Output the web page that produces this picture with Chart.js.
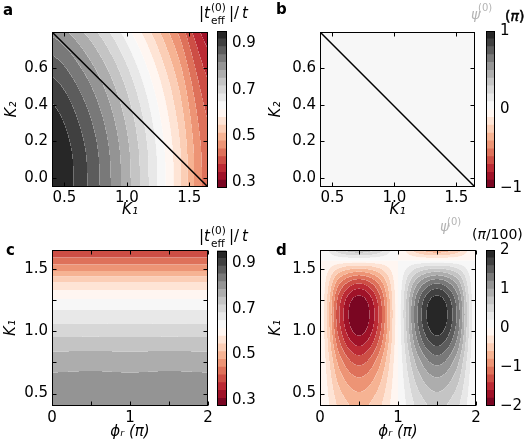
<!DOCTYPE html>
<html>
<head>
<meta charset="utf-8">
<script src="https://cdn.jsdelivr.net/npm/chart.js@4.4.1/dist/chart.umd.min.js"></script>
<style>
  body { margin: 0; background: #fff; }
  #fig { position: relative; width: 526px; height: 447px; overflow: hidden; font-family: "DejaVu Sans"; }
  #fig canvas { position: absolute; }
  .t { position: absolute; white-space: nowrap; line-height: 1; color: #000; font-family: "DejaVu Sans"; }
  .heavy { -webkit-text-stroke: 0.5px #000; }
</style>
</head>
<body>
<div id="fig">
  <canvas id="pa" width="263" height="223" style="left:0;top:0"></canvas>
  <canvas id="pb" width="263" height="223" style="left:263px;top:0"></canvas>
  <canvas id="pc" width="263" height="224" style="left:0;top:223px"></canvas>
  <canvas id="pd" width="263" height="224" style="left:263px;top:223px"></canvas>
  <canvas id="ca" width="51" height="223" style="left:212px;top:0"></canvas>
  <canvas id="cb" width="46" height="223" style="left:480px;top:0"></canvas>
  <canvas id="cc" width="51" height="224" style="left:212px;top:223px"></canvas>
  <canvas id="cd" width="46" height="224" style="left:480px;top:223px"></canvas>
</div>
<script>
// ================================
// Data
// ================================

// panel a : |t_eff^(0)|/t over (K1, K2), rows follow aK2
const aK1 = [0.4, 0.65, 0.9, 1.15, 1.4, 1.65];
const aK2 = [-0.05, 0.15, 0.35, 0.55, 0.75, 0.95];
const aT = [
  [0.960, 0.897, 0.807, 0.695, 0.566, 0.426],
  [0.955, 0.892, 0.802, 0.691, 0.563, 0.423],
  [0.931, 0.868, 0.780, 0.670, 0.543, 0.406],
  [0.888, 0.827, 0.741, 0.633, 0.510, 0.375],
  [0.827, 0.769, 0.685, 0.581, 0.462, 0.333],
  [0.752, 0.695, 0.616, 0.516, 0.403, 0.280]
];

// panel b : psi^(0) (pi) over (K1, K2) -- flat zero
const bK1 = [0.4, 1.65];
const bK2 = [-0.05, 0.95];
const bPsi = [
  [0, 0],
  [0, 0]
];

// the straight line drawn in a and b
const lineK1 = [0.4, 1.65];
const lineK2 = [0.8, -0.05];

// panel c : |t_eff^(0)|/t over (phi_r, K1), rows follow cK1
const cPhi = [0, 0.5, 1, 1.5, 2];
const cK1 = [0.4, 0.525, 0.65, 0.775, 0.9, 1.025, 1.15, 1.275, 1.4, 1.525, 1.65];
const cT = [
  [0.810, 0.812, 0.810, 0.812, 0.810],
  [0.800, 0.802, 0.800, 0.802, 0.800],
  [0.787, 0.789, 0.787, 0.789, 0.787],
  [0.765, 0.766, 0.765, 0.766, 0.765],
  [0.733, 0.734, 0.733, 0.734, 0.733],
  [0.692, 0.693, 0.692, 0.693, 0.692],
  [0.655, 0.655, 0.655, 0.655, 0.655],
  [0.607, 0.607, 0.607, 0.607, 0.607],
  [0.540, 0.540, 0.540, 0.540, 0.540],
  [0.450, 0.450, 0.450, 0.450, 0.450],
  [0.385, 0.385, 0.385, 0.385, 0.385]
];

// panel d : psi^(0) (pi/100) over (phi_r, K1), rows follow dK1
const dPhi = [0, 0.25, 0.5, 0.75, 1, 1.25, 1.5, 1.75, 2];
const dK1 = [0.4, 0.525, 0.65, 0.775, 0.9, 1.025, 1.15, 1.275, 1.4, 1.525, 1.65];
const dPsi = [
  [0, -0.46, -0.65, -0.46, 0, 0.46, 0.65, 0.46, 0],
  [0, -0.58, -0.82, -0.58, 0, 0.58, 0.82, 0.58, 0],
  [0, -0.74, -1.04, -0.74, 0, 0.74, 1.04, 0.74, 0],
  [0, -0.93, -1.32, -0.93, 0, 0.93, 1.32, 0.93, 0],
  [0, -1.17, -1.65, -1.17, 0, 1.17, 1.65, 1.17, 0],
  [0, -1.35, -1.91, -1.35, 0, 1.35, 1.91, 1.35, 0],
  [0, -1.41, -1.99, -1.41, 0, 1.41, 1.99, 1.41, 0],
  [0, -1.29, -1.83, -1.29, 0, 1.29, 1.83, 1.29, 0],
  [0, -0.92, -1.30, -0.92, 0, 0.92, 1.30, 0.92, 0],
  [0, -0.30, -0.42, -0.30, 0, 0.30, 0.42, 0.30, 0],
  [0, 0.53, 0.75, 0.53, 0, -0.53, -0.75, -0.53, 0]
];

// colour ranges (20 filled levels each)
const tRange = [0.275, 0.954];
const psiBRange = [-1, 1];
const psiDRange = [-2, 2];
const nLevels = 20;

// ticks
const k1Ticks = [0.5, 1.0, 1.5];
const k2Ticks = [0.0, 0.2, 0.4, 0.6];
const phiTicks = [0, 1, 2];
const phiMarks = [0, 0.5, 1, 1.5, 2];
const k1Marks = [0.5, 0.75, 1.0, 1.25, 1.5];
const tBarTicks = [0.3, 0.5, 0.7, 0.9];
const psiBTicks = [-1, 0, 1];
const psiDTicks = [-2, -1, 0, 1, 2];

// ================================
// Colour map (RdGy)
// ================================
const RDGY = [[103,0,31],[178,24,43],[214,96,77],[244,165,130],[253,219,199],
  [255,255,255],[224,224,224],[186,186,186],[135,135,135],[77,77,77],[26,26,26]];

function cmap(p) {
  const s = Math.max(0, Math.min(1, p)) * 10;
  const i = Math.min(9, Math.floor(s));
  const t = s - i;
  const a = RDGY[i], b = RDGY[i + 1];
  return [0, 1, 2].map(c => Math.round(a[c] + (b[c] - a[c]) * t));
}

const FONT = "DejaVu Sans";
const FS = 15;
const minus = v => (v < 0 ? "\u2212" : "") + Math.abs(v);

// ================================
// Smooth lookup in a value grid
// ================================
function cr(p0, p1, p2, p3, t) {
  return p1 + 0.5 * t * (p2 - p0 + t * (2 * p0 - 5 * p1 + 4 * p2 - p3 + t * (3 * (p1 - p2) + p3 - p0)));
}
function gridPos(arr, v) {
  const n = arr.length;
  const step = (arr[n - 1] - arr[0]) / (n - 1);
  const u = (v - arr[0]) / step;
  const i = Math.max(0, Math.min(n - 2, Math.floor(u)));
  return [i, u - i];
}
function lookup(f, xv, yv) {
  const [i, tx] = gridPos(f.xs, xv);
  const [j, ty] = gridPos(f.ys, yv);
  const nr = f.z.length, nc = f.z[0].length;
  const at = (r, c) => f.z[Math.max(0, Math.min(nr - 1, r))][Math.max(0, Math.min(nc - 1, c))];
  const rows = [-1, 0, 1, 2].map(d => cr(at(j + d, i - 1), at(j + d, i), at(j + d, i + 1), at(j + d, i + 2), tx));
  return cr(rows[0], rows[1], rows[2], rows[3], ty);
}

// ================================
// Plugins: filled levels + frame
// ================================
function fieldPlugin(f) {
  const colors = [];
  for (let k = 0; k < f.n; k++) colors.push(cmap((k + 0.5) / f.n));
  const band = v => {
    const k = Math.floor((v - f.range[0]) / (f.range[1] - f.range[0]) * f.n);
    return Math.max(0, Math.min(f.n - 1, k));
  };
  return {
    id: "field",
    beforeDatasetsDraw(chart) {
      const { ctx, chartArea: ca, scales: { x, y } } = chart;
      const w = Math.round(ca.right - ca.left), h = Math.round(ca.bottom - ca.top);
      const off = document.createElement("canvas");
      off.width = w; off.height = h;
      const octx = off.getContext("2d");
      const img = octx.createImageData(w, h);
      const sub = [0.25, 0.75];
      for (let j = 0; j < h; j++) {
        for (let i = 0; i < w; i++) {
          let r = 0, g = 0, b = 0, k0 = -1, mixed = false;
          for (const sy of sub) for (const sx of sub) {
            const xv = x.getValueForPixel(ca.left + i + sx);
            const yv = y.getValueForPixel(ca.top + j + sy);
            const k = band(lookup(f, xv, yv));
            if (k0 < 0) k0 = k; else if (k !== k0) mixed = true;
            const c = colors[k];
            r += c[0]; g += c[1]; b += c[2];
          }
          r /= 4; g /= 4; b /= 4;
          if (mixed) { r += (255 - r) * 0.3; g += (255 - g) * 0.3; b += (255 - b) * 0.3; }
          const o = (j * w + i) * 4;
          img.data[o] = r; img.data[o + 1] = g; img.data[o + 2] = b; img.data[o + 3] = 255;
        }
      }
      octx.putImageData(img, 0, 0);
      ctx.drawImage(off, ca.left, ca.top);
    }
  };
}

function framePlugin(xMarks, yMarks) {
  return {
    id: "frame",
    afterDraw(chart) {
      const { ctx, chartArea: ca, scales } = chart;
      const L = Math.round(ca.left) + 0.5, R = Math.round(ca.right) - 0.5;
      const T = Math.round(ca.top) + 0.5, B = Math.round(ca.bottom) - 0.5;
      ctx.save();
      ctx.strokeStyle = "#000";
      ctx.lineWidth = 1;
      ctx.beginPath();
      (xMarks || []).forEach(v => {
        const px = Math.round(scales.x.getPixelForValue(v)) + 0.5;
        ctx.moveTo(px, B); ctx.lineTo(px, B - 4);
        ctx.moveTo(px, T); ctx.lineTo(px, T + 4);
      });
      (yMarks || []).forEach(v => {
        const py = Math.round(scales.y.getPixelForValue(v)) + 0.5;
        ctx.moveTo(L, py); ctx.lineTo(L + 4, py);
        ctx.moveTo(R, py); ctx.lineTo(R - 4, py);
      });
      ctx.stroke();
      ctx.strokeRect(L, T, R - L, B - T);
      ctx.restore();
    }
  };
}

// ================================
// Builders
// ================================
function axis(a, horizontal) {
  return {
    type: "linear", min: a.min, max: a.max,
    afterBuildTicks: s => { s.ticks = a.ticks.map(v => ({ value: v })); },
    afterFit: s => { if (horizontal) s.height = a.size; else s.width = a.size; },
    grid: { display: false, drawTicks: false },
    border: { display: false },
    ticks: { padding: a.pad, color: "#000", font: { family: FONT, size: FS }, maxRotation: 0, autoSkip: false, callback: v => a.fmt(v) },
    title: { display: true, text: a.title, color: "#000", font: { family: FONT, size: FS, style: "italic" }, padding: 0 }
  };
}

function makePanel(id, o) {
  new Chart(document.getElementById(id), {
    type: "scatter",
    data: { datasets: o.datasets || [] },
    options: {
      responsive: false, animation: false, devicePixelRatio: 1, events: [],
      layout: { padding: o.pad },
      plugins: { legend: { display: false }, tooltip: { enabled: false } },
      scales: { x: axis(o.x, true), y: axis(o.y, false) }
    },
    plugins: [fieldPlugin(o.field), framePlugin(o.xMarks, o.yMarks)]
  });
}

function makeColorbar(id, o) {
  const step = (o.range[1] - o.range[0]) / nLevels;
  const datasets = [];
  for (let k = 0; k < nLevels; k++) {
    const c = cmap((k + 0.5) / nLevels);
    datasets.push({
      data: [[o.range[0] + k * step, o.range[0] + (k + 1) * step]],
      backgroundColor: `rgb(${c[0]},${c[1]},${c[2]})`,
      borderWidth: 0, barPercentage: 1, categoryPercentage: 1, grouped: false
    });
  }
  new Chart(document.getElementById(id), {
    type: "bar",
    data: { labels: [""], datasets },
    options: {
      responsive: false, animation: false, devicePixelRatio: 1, events: [],
      layout: { padding: o.pad },
      plugins: { legend: { display: false }, tooltip: { enabled: false } },
      scales: {
        x: { display: false },
        y: {
          position: "right", min: o.range[0], max: o.range[1],
          afterBuildTicks: s => { s.ticks = o.ticks.map(v => ({ value: v })); },
          afterFit: s => { s.width = o.width; },
          grid: { display: false, drawTicks: false },
          border: { display: false },
          ticks: { padding: 5.5, color: "#000", font: { family: FONT, size: FS }, callback: v => o.fmt(v) }
        }
      }
    },
    plugins: [framePlugin([], [])]
  });
}

const lineData = lineK1.map((x, i) => ({ x, y: lineK2[i] }));
const lineSet = { data: lineData, showLine: true, borderColor: "#000", borderWidth: 1.5, pointRadius: 0, fill: false };
const f1 = v => v.toFixed(1);

// ================================
// Panels
// ================================
makePanel("pa", {
  pad: { left: 3, top: 32, right: 55, bottom: 4 },
  x: { min: 0.4, max: 1.65, ticks: k1Ticks, size: 32, pad: 2, fmt: f1, title: "K\u2081" },
  y: { min: -0.05, max: 0.8, ticks: k2Ticks, size: 49, pad: 4, fmt: f1, title: "K\u2082" },
  field: { xs: aK1, ys: aK2, z: aT, range: tRange, n: nLevels },
  xMarks: k1Ticks, yMarks: k2Ticks,
  datasets: [lineSet]
});

makePanel("pb", {
  pad: { left: 4.5, top: 32, right: 51, bottom: 4 },
  x: { min: 0.4, max: 1.65, ticks: k1Ticks, size: 32, pad: 2, fmt: f1, title: "K\u2081" },
  y: { min: -0.05, max: 0.8, ticks: k2Ticks, size: 52.5, pad: 4, fmt: f1, title: "K\u2082" },
  field: { xs: bK1, ys: bK2, z: bPsi, range: psiBRange, n: nLevels },
  xMarks: k1Ticks, yMarks: k2Ticks,
  datasets: [Object.assign({}, lineSet)]
});

makePanel("pc", {
  pad: { left: 2.5, top: 27, right: 55, bottom: 6 },
  x: { min: 0, max: 2, ticks: phiTicks, size: 35, pad: 3, fmt: v => String(v), title: "\u03d5\u1d63 (\u03c0)" },
  y: { min: 0.4, max: 1.65, ticks: k1Ticks, size: 49.5, pad: 4, fmt: f1, title: "K\u2081" },
  field: { xs: cPhi, ys: cK1, z: cT, range: tRange, n: nLevels },
  xMarks: phiMarks, yMarks: k1Marks
});

makePanel("pd", {
  pad: { left: 4.5, top: 27, right: 50, bottom: 6 },
  x: { min: 0, max: 2, ticks: phiTicks, size: 35, pad: 3, fmt: v => String(v), title: "\u03d5\u1d63 (\u03c0)" },
  y: { min: 0.4, max: 1.65, ticks: k1Ticks, size: 52.5, pad: 4, fmt: f1, title: "K\u2081" },
  field: { xs: dPhi, ys: dK1, z: dPsi, range: psiDRange, n: nLevels },
  xMarks: phiMarks, yMarks: k1Marks
});

makeColorbar("ca", { pad: { left: 5, top: 31, right: 0, bottom: 35 }, width: 36.5, range: tRange, ticks: tBarTicks, fmt: f1 });
makeColorbar("cb", { pad: { left: 6, top: 31, right: 0, bottom: 35 }, width: 31.5, range: psiBRange, ticks: psiBTicks, fmt: minus });
makeColorbar("cc", { pad: { left: 5, top: 27.5, right: 0, bottom: 41 }, width: 36.5, range: tRange, ticks: tBarTicks, fmt: f1 });
makeColorbar("cd", { pad: { left: 6, top: 27, right: 0, bottom: 41 }, width: 31.5, range: psiDRange, ticks: psiDTicks, fmt: minus });

// ================================
// Panel letters and colour-bar titles
// ================================
const fig = document.getElementById("fig");
function label(html, x, base, size, style, cls) {
  const d = document.createElement("div");
  d.className = "t" + (cls ? " " + cls : "");
  d.innerHTML = html;
  d.style.left = x + "px";
  d.style.top = (base - 0.846 * size) + "px";
  d.style.fontSize = size + "px";
  if (style) Object.assign(d.style, style);
  fig.appendChild(d);
}

label("<b>a</b>", 3, 16, 15);
label("<b>b</b>", 276, 15, 15);
label("<b>c</b>", 6, 256, 15);
label("<b>d</b>", 276, 256, 15);

[0, 223].forEach(dy => {
  label("|<i>t</i>", 199, 18.5 + dy, 15);
  label("(0)", 211, 10.5 + dy, 10.5);
  label("eff", 211, 23.5 + dy, 10.5);
  label("|", 229, 18.5 + dy, 15);
  label("/", 234, 18.5 + dy, 15);
  label("<i>t</i>", 242, 18.5 + dy, 15);
});

const grey = { color: "#b4b4b4" };
label("<i>\u03c8</i>", 471, 19, 14, grey);
label("(0)", 478, 11, 10, grey);
label("(<i>\u03c0</i>)", 505, 20.5, 14, null, "heavy");

label("<i>\u03c8</i>", 440, 230.5, 14, grey);
label("(0)", 447, 225, 10, grey);
label("(<i>\u03c0</i>/100)", 472, 239, 14);
</script>
</body>
</html>
